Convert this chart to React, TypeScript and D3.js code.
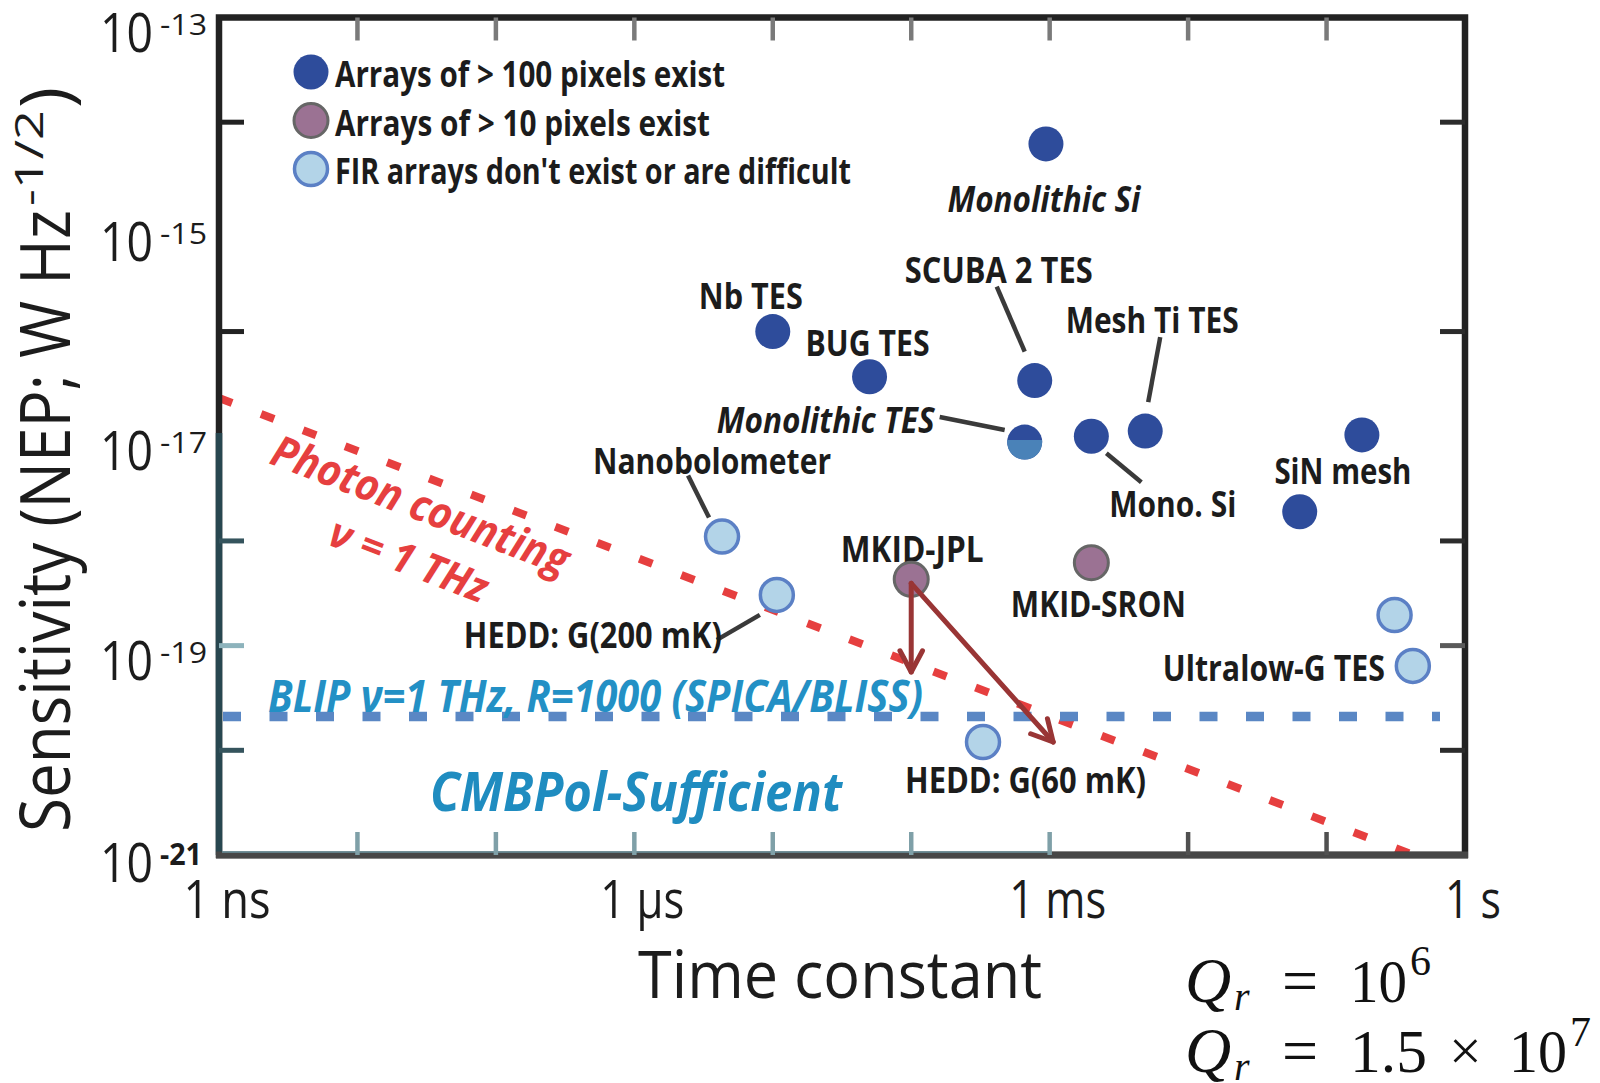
import React from 'react';
import * as d3 from 'd3';

// ---------- data: time constant (s) vs. NEP (W Hz^-1/2) ----------
const manyPixelArrays = [
  { id: 'monoSi', tau: 9.4e-4, nep: 6.2e-15 },
  { id: 'nbTES', tau: 1.0e-5, nep: 1.0e-16 },
  { id: 'bugTES', tau: 5.0e-5, nep: 3.7e-17 },
  { id: 'scuba2', tau: 7.8e-4, nep: 3.4e-17 },
  { id: 'monoTES', tau: 6.6e-4, nep: 8.8e-18 },
  { id: 'monoSi2', tau: 2.0e-3, nep: 1.0e-17 },
  { id: 'meshTi', tau: 4.9e-3, nep: 1.12e-17 },
  { id: 'sinA', tau: 0.18, nep: 1.03e-17 },
  { id: 'sinB', tau: 0.064, nep: 1.9e-18 },
];
const fewPixelArrays = [
  { id: 'mkidJPL', tau: 1.0e-4, nep: 4.3e-19 },
  { id: 'mkidSRON', tau: 2.0e-3, nep: 6.2e-19 },
];
const firDetectors = [
  { id: 'nano', tau: 4.3e-6, nep: 1.1e-18 },
  { id: 'hedd200', tau: 1.07e-5, nep: 3.05e-19 },
  { id: 'hedd60', tau: 3.3e-4, nep: 1.2e-20 },
  { id: 'ultraA', tau: 0.31, nep: 1.96e-19 },
  { id: 'ultraB', tau: 0.42, nep: 6.4e-20 },
];

// photon-counting limit at 1 THz (end points) and BLIP level
const photonLine = [
  { tau: 1e-9, nep: 2.32e-17 },
  { tau: 0.57, nep: 8.6e-22 },
];
const blipNep = 2.1e-20;

// resonator-Q arrows from MKID-JPL
const arrowTargets = [
  { tau: 1.0e-4, nep: 5.6e-20 },
  { tau: 1.06e-3, nep: 1.2e-20 },
];

// axes
const xTickDecades = [-8, -7, -6, -5, -4, -3, -2, -1];
const xLabels = [
  { v: 1e-9, text: '1 ns', w: 87 },
  { v: 1e-6, text: '1 µs', w: 84 },
  { v: 1e-3, text: '1 ms', w: 97 },
  { v: 1, text: '1 s', w: 56 },
];
const yLabelExps = [-13, -15, -17, -19, -21];
const yTickExps = [-14, -16, -18, -19, -20];

const legendItems = [
  { cls: 'many', text: 'Arrays of > 100 pixels exist', w: 390 },
  { cls: 'few', text: 'Arrays of > 10 pixels exist', w: 375 },
  { cls: 'fir', text: "FIR arrays don't exist or are difficult", w: 516 },
];

// point labels: offset from the point they name
const pointLabels = [
  { id: 'monoSi', text: 'Monolithic Si', dx: -2, dy: 68, anchor: 'middle', w: 193, italic: true },
  { id: 'nbTES', text: 'Nb TES', dx: -22, dy: -23, anchor: 'middle', w: 104 },
  { id: 'bugTES', text: 'BUG TES', dx: -2, dy: -21, anchor: 'middle', w: 124 },
  { id: 'scuba2', text: 'SCUBA 2 TES', dx: -36, dy: -98, anchor: 'middle', w: 188 },
  { id: 'monoTES', text: 'Monolithic TES', dx: -90, dy: -9, anchor: 'end', w: 218, italic: true },
  { id: 'monoSi2', text: 'Mono. Si', dx: 18, dy: 81, anchor: 'start', w: 127 },
  { id: 'meshTi', text: 'Mesh Ti TES', dx: 7, dy: -98, anchor: 'middle', w: 173 },
  { id: 'sinA', text: 'SiN mesh', dx: -19, dy: 49, anchor: 'middle', w: 137 },
  { id: 'mkidJPL', text: 'MKID-JPL', dx: 1, dy: -17, anchor: 'middle', w: 143 },
  { id: 'mkidSRON', text: 'MKID-SRON', dx: 7, dy: 54, anchor: 'middle', w: 175 },
  { id: 'nano', text: 'Nanobolometer', dx: -10, dy: -63, anchor: 'middle', w: 238 },
  { id: 'hedd200', text: 'HEDD: G(200 mK)', dx: -55, dy: 53, anchor: 'end', w: 258 },
  { id: 'hedd60', text: 'HEDD: G(60 mK)', dx: -78, dy: 51, anchor: 'start', w: 241 },
  { id: 'ultraB', text: 'Ultralow-G TES', dx: -28, dy: 15, anchor: 'end', w: 222 },
];

// leader lines: offsets from the point
const leaders = [
  { id: 'scuba2', x1: -38, y1: -94, x2: -10, y2: -29 },
  { id: 'meshTi', x1: 15, y1: -94, x2: 3, y2: -29 },
  { id: 'monoTES', x1: -85, y1: -25, x2: -20, y2: -12 },
  { id: 'monoSi2', x1: 15, y1: 17, x2: 50, y2: 46 },
  { id: 'nano', x1: -34, y1: -61, x2: -13, y2: -19 },
  { id: 'hedd200', x1: -60, y1: 45, x2: -17, y2: 20 },
];

// ---------- layout ----------
const W = 1600;
const H = 1083;
const P = { left: 219, right: 1465, top: 17.5, bottom: 855 };
const SANS = "'Open Sans', 'Noto Sans', 'DejaVu Sans', sans-serif";
const SERIF = "'Liberation Serif', 'DejaVu Serif', serif";

const COLORS = {
  many: '#2e4c9b',
  manyLow: '#4a82b8',
  few: '#9b7293',
  fewStroke: '#666666',
  fir: '#b3d4e8',
  firStroke: '#5b80c5',
  photon: '#e63f3f',
  blip: '#5a87c4',
  blipText: '#2390c5',
  arrow: '#993535',
  label: '#1c1c1c',
  leader: '#3a3a3a',
};

const x = d3.scaleLog().domain([1e-9, 1]).range([P.left, P.right]);
const y = d3.scaleLog().domain([1e-13, 1e-21]).range([P.top, P.bottom]);

type Anchor = 'start' | 'middle' | 'end';

function FitText(props: {
  x: number; y: number; w: number; size: number; anchor?: Anchor;
  weight?: number; italic?: boolean; fill?: string; family?: string; children: React.ReactNode;
}) {
  const { w, anchor = 'start' } = props;
  const x0 = anchor === 'middle' ? props.x - w / 2 : anchor === 'end' ? props.x - w : props.x;
  return (
    <text
      x={x0}
      y={props.y}
      textLength={w}
      lengthAdjust="spacingAndGlyphs"
      fontSize={props.size}
      fontWeight={props.weight ?? 400}
      fontStyle={props.italic ? 'italic' : 'normal'}
      fill={props.fill ?? COLORS.label}
      fontFamily={props.family ?? SANS}
    >
      {props.children}
    </text>
  );
}

const allPoints = [
  ...manyPixelArrays.map((d) => ({ ...d, cls: 'many' })),
  ...fewPixelArrays.map((d) => ({ ...d, cls: 'few' })),
  ...firDetectors.map((d) => ({ ...d, cls: 'fir' })),
];
const pos = (id: string) => {
  const d = allPoints.find((p) => p.id === id)!;
  return { px: x(d.tau), py: y(d.nep) };
};

function Marker({ cls, cx, cy, r = 18 }: { cls: string; cx: number; cy: number; r?: number }) {
  if (cls === 'many') return <circle cx={cx} cy={cy} r={r - 0.5} fill={COLORS.many} />;
  if (cls === 'few')
    return <circle cx={cx} cy={cy} r={r - 1} fill={COLORS.few} stroke={COLORS.fewStroke} strokeWidth={3} />;
  return <circle cx={cx} cy={cy} r={r - 1.5} fill={COLORS.fir} stroke={COLORS.firStroke} strokeWidth={3.5} />;
}

function Arrow({ x1, y1, x2, y2 }: { x1: number; y1: number; x2: number; y2: number }) {
  const ang = Math.atan2(y2 - y1, x2 - x1);
  const len = 24;
  const spread = (28 * Math.PI) / 180;
  const a1 = [x2 - len * Math.cos(ang - spread), y2 - len * Math.sin(ang - spread)];
  const a2 = [x2 - len * Math.cos(ang + spread), y2 - len * Math.sin(ang + spread)];
  const line = d3.line();
  return (
    <g stroke={COLORS.arrow} strokeWidth={5} fill="none" strokeLinecap="round" strokeLinejoin="round">
      <path d={line([[x1, y1], [x2, y2]])!} />
      <path d={line([a1 as [number, number], [x2, y2], a2 as [number, number]])!} />
    </g>
  );
}

export default function App() {
  const photonPath = d3
    .line<{ tau: number; nep: number }>()
    .x((d) => x(d.tau))
    .y((d) => y(d.nep))(photonLine)!;

  const jpl = pos('mkidJPL');
  const monoTES = pos('monoTES');

  return (
    <svg
      width={W}
      height={H}
      viewBox={`0 0 ${W} ${H}`}
      style={{ position: 'absolute', left: 0, top: 0, display: 'block', background: '#ffffff' }}
      fontFamily={SANS}
    >
      <rect x={0} y={0} width={W} height={H} fill="#ffffff" />
      <defs>
        <clipPath id="monoTES-lower">
          <rect x={monoTES.px - 20} y={monoTES.py - 2} width={40} height={24} />
        </clipPath>
      </defs>

      {/* reference lines */}
      <path d={photonPath} stroke={COLORS.photon} strokeWidth={8} strokeDasharray="14 31" fill="none" />
      <line
        x1={P.left + 4}
        x2={1440}
        y1={y(blipNep)}
        y2={y(blipNep)}
        stroke={COLORS.blip}
        strokeWidth={9.5}
        strokeDasharray="18 28.5"
      />

      {/* frame */}
      <rect
        x={P.left}
        y={P.top}
        width={P.right - P.left}
        height={P.bottom - P.top}
        fill="none"
        stroke="#222222"
        strokeWidth={6.5}
      />
      <line x1={P.left} x2={P.left} y1={433} y2={P.bottom} stroke="#284750" strokeWidth={6.5} />
      <line x1={P.left - 3} x2={P.right + 3} y1={P.bottom} y2={P.bottom} stroke="#474747" strokeWidth={7} />
      <line x1={P.left + 3} x2={x(1e-3)} y1={P.bottom - 3} y2={P.bottom - 3} stroke="#6b929c" strokeWidth={1.5} />

      {/* ticks */}
      {xTickDecades.map((e) => (
        <g key={`xt${e}`}>
          <line x1={x(10 ** e)} x2={x(10 ** e)} y1={P.top} y2={P.top + 23} stroke="#7a7a7a" strokeWidth={4.5} />
          <line
            x1={x(10 ** e)}
            x2={x(10 ** e)}
            y1={P.bottom}
            y2={P.bottom - 23}
            stroke={e <= -3 ? '#7fa0a8' : '#505050'}
            strokeWidth={4.5}
          />
        </g>
      ))}
      {yTickExps.map((e) => (
        <g key={`yt${e}`}>
          <line
            x1={P.left}
            x2={P.left + 25}
            y1={y(10 ** e)}
            y2={y(10 ** e)}
            stroke={e === -19 ? '#8db3bc' : e >= -16 ? '#222222' : '#35545d'}
            strokeWidth={5}
          />
          <line
            x1={P.right}
            x2={P.right - 25}
            y1={y(10 ** e)}
            y2={y(10 ** e)}
            stroke={e === -19 ? '#5a5a5a' : '#2c2c2c'}
            strokeWidth={5}
          />
        </g>
      ))}

      {/* tick labels */}
      {yLabelExps.map((e) => {
        const base = Math.min(y(10 ** e) + 34, P.bottom + 27);
        return (
          <g key={`yl${e}`} fill="#1c1c1c">
            <FitText x={100} y={base} w={53} size={54}>10</FitText>
            <FitText x={160} y={base - 17} w={e === -21 ? 42 : 47} size={30} weight={e === -21 ? 700 : 400}>
              {`-${-e}`}
            </FitText>
          </g>
        );
      })}
      {xLabels.map((d) => (
        <FitText key={d.text} x={x(d.v) + 8} y={918} w={d.w} size={53} anchor="middle">
          {d.text}
        </FitText>
      ))}

      {/* axis titles */}
      <FitText x={638} y={998} w={404} size={66}>Time constant</FitText>
      <g transform="translate(70,832) rotate(-90)">
        <FitText x={0} y={0} w={622} size={70}>Sensitivity (NEP; W Hz</FitText>
        <FitText x={626} y={-27} w={96} size={38}>-1/2</FitText>
        <FitText x={724} y={0} w={21} size={70}>)</FitText>
      </g>

      {/* annotations on the plot area */}
      <g transform="translate(268,463) rotate(21)">
        <FitText x={0} y={0} w={315} size={44} weight={700} italic fill={COLORS.photon}>
          Photon counting
        </FitText>
      </g>
      <g transform="translate(326,544) rotate(21)">
        <FitText x={0} y={0} w={166} size={42} weight={700} italic fill={COLORS.photon}>
          ν = 1 THz
        </FitText>
      </g>
      <FitText x={268} y={712} w={655} size={44} weight={700} italic fill={COLORS.blipText}>
        BLIP ν=1 THz, R=1000 (SPICA/BLISS)
      </FitText>
      <FitText x={430} y={811} w={412} size={54} weight={700} italic fill="#1f8cc0">
        CMBPol-Sufficient
      </FitText>

      {/* leader lines */}
      {leaders.map((l) => {
        const p = pos(l.id);
        return (
          <line
            key={`ld${l.id}`}
            x1={p.px + l.x1}
            y1={p.py + l.y1}
            x2={p.px + l.x2}
            y2={p.py + l.y2}
            stroke={COLORS.leader}
            strokeWidth={4.5}
          />
        );
      })}

      {/* point labels */}
      {pointLabels.map((l) => {
        const p = pos(l.id);
        return (
          <FitText
            key={`pl${l.id}`}
            x={p.px + l.dx}
            y={p.py + l.dy}
            w={l.w}
            size={36}
            weight={700}
            italic={l.italic}
            anchor={l.anchor as Anchor}
          >
            {l.text}
          </FitText>
        );
      })}

      {/* detector markers */}
      {allPoints.map((d) => (
        <Marker key={d.id} cls={d.cls} cx={x(d.tau)} cy={y(d.nep)} />
      ))}
      <circle
        cx={monoTES.px}
        cy={monoTES.py}
        r={17.5}
        fill={COLORS.manyLow}
        clipPath="url(#monoTES-lower)"
      />

      {/* Q arrows */}
      {arrowTargets.map((t, i) => (
        <Arrow key={`ar${i}`} x1={jpl.px} y1={jpl.py + 4} x2={x(t.tau)} y2={y(t.nep)} />
      ))}

      {/* legend */}
      {legendItems.map((it, i) => {
        const cy = 72 + i * 48.5;
        return (
          <g key={it.cls}>
            <Marker cls={it.cls} cx={311} cy={cy} r={18} />
            <FitText x={335} y={cy + 15} w={it.w} size={35} weight={700}>
              {it.text}
            </FitText>
          </g>
        );
      })}

      {/* resonator quality factors */}
      <g fontFamily={SERIF} fill="#111111">
        <text x={1185} y={1002} fontSize={64} fontStyle="italic">Q</text>
        <text x={1234} y={1010} fontSize={40} fontStyle="italic">r</text>
        <text x={1282} y={1002} fontSize={64}>=</text>
        <text x={1350} y={1002} fontSize={62} textLength={57} lengthAdjust="spacingAndGlyphs">10</text>
        <text x={1410} y={975} fontSize={42}>6</text>

        <text x={1185} y={1072} fontSize={64} fontStyle="italic">Q</text>
        <text x={1234} y={1080} fontSize={40} fontStyle="italic">r</text>
        <text x={1282} y={1072} fontSize={64}>=</text>
        <text x={1350} y={1072} fontSize={62} textLength={77} lengthAdjust="spacingAndGlyphs">1.5</text>
        <text x={1449} y={1070} fontSize={58}>×</text>
        <text x={1509} y={1072} fontSize={62} textLength={58} lengthAdjust="spacingAndGlyphs">10</text>
        <text x={1570} y={1046} fontSize={42}>7</text>
      </g>
    </svg>
  );
}
